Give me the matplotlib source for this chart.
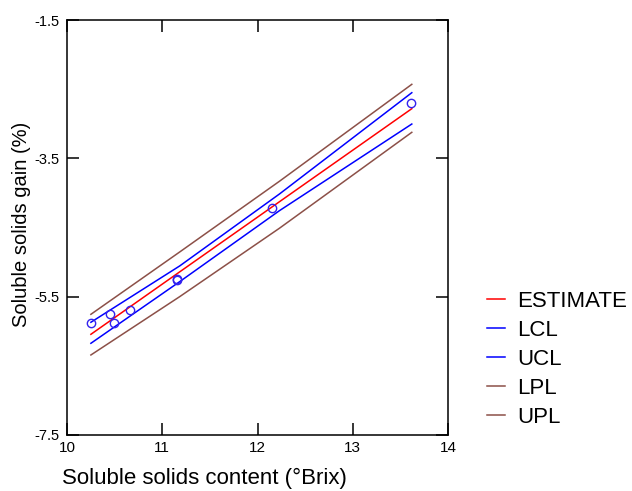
import matplotlib
matplotlib.use('Agg')
import matplotlib.pyplot as plt

plt.rcParams['font.family'] = ['Liberation Sans', 'DejaVu Sans']

# observed points
obs_x = [10.25, 10.45, 10.49, 10.66, 11.15, 11.155, 12.15, 13.61]
obs_y = [-5.876, -5.746, -5.876, -5.697, -5.249, -5.263, -4.218, -2.700]

# fitted line and bands
est_x = [10.251, 13.620]
est_y = [-6.044, -2.782]
band_x = [10.251, 11.183, 12.230, 13.620]
ucl_y = [-5.870, -5.056, -4.016, -2.551]
lcl_y = [-6.174, -5.283, -4.257, -3.004]
upl_y = [-5.755, -4.854, -3.832, -2.430]
lpl_y = [-6.343, -5.500, -4.511, -3.124]

fig = plt.figure(figsize=(6.32, 4.91), dpi=100)
ax = fig.add_axes([67/632, 56/491, 381/632, 415/491])

ax.plot(est_x, est_y, color='#ff0000', lw=1.1, label='ESTIMATE')
ax.plot(band_x, lcl_y, color='#0000ff', lw=1.1, label='LCL')
ax.plot(band_x, ucl_y, color='#0000ff', lw=1.1, label='UCL')
ax.plot(band_x, lpl_y, color='#8c5048', lw=1.1, label='LPL')
ax.plot(band_x, upl_y, color='#8c5048', lw=1.1, label='UPL')
ax.plot(obs_x, obs_y, 'o', mfc='none', mec='#3322ee', mew=1.0, ms=6)

ax.set_xlim(10, 14)
ax.set_ylim(-7.5, -1.5)
ax.set_xticks([10, 11, 12, 13, 14])
ax.set_yticks([-7.5, -5.5, -3.5, -1.5])
ax.set_yticklabels(['-7.5', '-5.5', '-3.5', '-1.5'])
ax.tick_params(direction='in', length=8.6, width=1.1, top=True, right=True,
               labelsize=11)
ax.tick_params(axis='y', labelsize=10.5, pad=5.5)
ax.tick_params(axis='x', pad=4)
for s in ax.spines.values():
    s.set_linewidth(1.1)

ax.set_xlabel('Soluble solids content (°Brix)', fontsize=16)
ax.set_ylabel('Soluble solids gain (%)', fontsize=14.5)
ax.xaxis.set_label_coords(0.362, -0.104)
ax.xaxis.label.set_va('center')
ax.yaxis.set_label_coords(-0.12, 0.507)
ax.yaxis.label.set_va('center')

fig.legend(loc='upper left', bbox_to_anchor=(487/632, 1 - 291/491),
           frameon=False, fontsize=16, handlelength=0.8, handletextpad=0.55,
           labelspacing=0.36, borderpad=0, borderaxespad=0)

fig.savefig('out.png', dpi=100)
